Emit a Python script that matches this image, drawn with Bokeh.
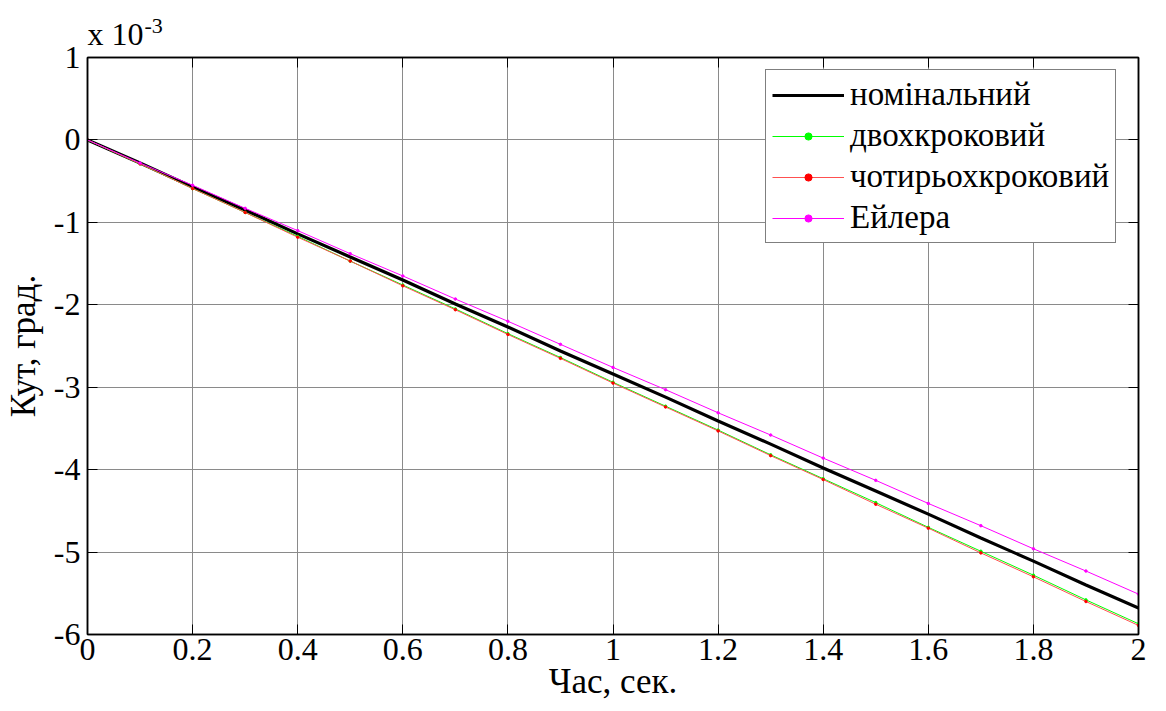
from bokeh.plotting import figure
from bokeh.models import Range1d, LinearAxis, Legend, LegendItem, Label, FixedTicker
from bokeh.embed import file_html
from bokeh.resources import INLINE

# time, s
t = [0.0, 0.1, 0.2, 0.3, 0.4, 0.5, 0.6, 0.7, 0.8, 0.9, 1.0,
     1.1, 1.2, 1.3, 1.4, 1.5, 1.6, 1.7, 1.8, 1.9, 2.0]
# angle, x 1e-3 deg
nominal = [0.0, -0.28, -0.57, -0.85, -1.14, -1.42, -1.70, -1.99, -2.27, -2.56, -2.84,
           -3.12, -3.41, -3.69, -3.98, -4.26, -4.54, -4.83, -5.11, -5.40, -5.68]
two_step = [0.0, -0.29, -0.59, -0.88, -1.17, -1.47, -1.76, -2.05, -2.35, -2.64, -2.94,
            -3.23, -3.52, -3.82, -4.11, -4.40, -4.70, -4.99, -5.28, -5.58, -5.87]
four_step = [0.0, -0.29, -0.59, -0.88, -1.18, -1.47, -1.77, -2.06, -2.36, -2.65, -2.95,
             -3.24, -3.53, -3.83, -4.12, -4.42, -4.71, -5.01, -5.30, -5.60, -5.89]
euler = [0.0, -0.28, -0.55, -0.83, -1.10, -1.38, -1.65, -1.93, -2.20, -2.48, -2.76,
         -3.03, -3.31, -3.58, -3.86, -4.13, -4.41, -4.68, -4.96, -5.23, -5.51]

names = ["номінальний", "двохкроковий", "чотирьохкроковий", "Ейлера"]
x_ticks = [0, 0.2, 0.4, 0.6, 0.8, 1.0, 1.2, 1.4, 1.6, 1.8, 2.0]
x_tick_labels = ["0", "0.2", "0.4", "0.6", "0.8", "1", "1.2", "1.4", "1.6", "1.8", "2"]
y_ticks = [-6, -5, -4, -3, -2, -1, 0, 1]
y_tick_labels = ["-6", "-5", "-4", "-3", "-2", "-1", "0", "1"]
x_label = "Час, сек."
y_label = "Кут, град."

FONT = "Liberation Serif"
TICK_FS = "32px"
LABEL_FS = "35px"

p = figure(width=1150, height=703, x_range=Range1d(0, 2), y_range=Range1d(-6, 1),
           output_backend="svg", toolbar_location=None,
           min_border_left=85, min_border_right=12, min_border_top=57, min_border_bottom=67)
p.background_fill_color = "white"
p.border_fill_color = "white"
p.outline_line_color = "black"
p.outline_line_width = 1.5

for ax in p.xaxis:
    ax.ticker = FixedTicker(ticks=x_ticks)
    ax.major_label_overrides = {v: s for v, s in zip(x_ticks, x_tick_labels)}
for ax in p.yaxis:
    ax.ticker = FixedTicker(ticks=y_ticks)
    ax.major_label_overrides = {v: s for v, s in zip(y_ticks, y_tick_labels)}

p.xaxis.axis_label = x_label
p.yaxis.axis_label = y_label
for ax in p.xaxis + p.yaxis:
    ax.major_label_text_font = FONT
    ax.major_label_text_font_size = TICK_FS
    ax.major_label_text_color = "black"
    ax.axis_label_text_font = FONT
    ax.axis_label_text_font_size = LABEL_FS
    ax.axis_label_text_font_style = "normal"
    ax.axis_label_text_color = "black"
    ax.major_tick_in = 10
    ax.major_tick_out = 0
    ax.minor_tick_line_color = None
    ax.axis_line_width = 1.5
    ax.axis_line_color = "black"
    ax.major_tick_line_color = "black"
p.xaxis.major_label_standoff = 4
p.xaxis.axis_label_standoff = -1
p.yaxis.major_label_standoff = 7
p.yaxis.axis_label_standoff = 8

for side, ticks in [("right", y_ticks), ("above", x_ticks)]:
    ax2 = LinearAxis(ticker=FixedTicker(ticks=ticks),
                     major_label_overrides={v: "" for v in ticks},
                     major_tick_in=10, major_tick_out=0,
                     minor_tick_line_color=None, axis_line_color="black", axis_line_width=1.5,
                     major_label_standoff=0)
    p.add_layout(ax2, side)

p.xgrid.ticker = FixedTicker(ticks=x_ticks)
p.ygrid.ticker = FixedTicker(ticks=y_ticks)
p.grid.grid_line_color = "#8a8a8a"
p.grid.grid_line_width = 1

r_nom = p.line(t, nominal, line_color="black", line_width=3.2)
r_two = p.line(t, two_step, line_color="#00ff00", line_width=1)
r_two_m = p.scatter(t, two_step, marker="circle", size=2.5, color="#00ff00")
r_four = p.line(t, four_step, line_color="#ff5050", line_width=1)
r_four_m = p.scatter(t, four_step, marker="circle", size=2.5, color="#ff0000")
r_eu = p.line(t, euler, line_color="#ff00ff", line_width=1)
r_eu_m = p.scatter(t, euler, marker="circle", size=2.5, color="#ff00ff")

legend = Legend(items=[
    LegendItem(label=names[0], renderers=[r_nom]),
    LegendItem(label=names[1], renderers=[r_two, r_two_m]),
    LegendItem(label=names[2], renderers=[r_four, r_four_m]),
    LegendItem(label=names[3], renderers=[r_eu, r_eu_m]),
], location=(678, 391))
legend.label_text_font = FONT
legend.label_text_font_size = "33px"
legend.label_text_color = "black"
legend.glyph_width = 72
legend.glyph_height = 18
legend.label_height = 34
legend.label_standoff = 6
legend.spacing = 4
legend.padding = 6
legend.margin = 0
legend.border_line_color = "black"
legend.border_line_width = 1
legend.background_fill_color = "white"
legend.background_fill_alpha = 1
p.add_layout(legend, "center")

# exponent note above the top-left corner of the axes (panel-relative screen units)
p.add_layout(Label(x=0, y=24, x_units="screen", y_units="screen", text="x 10",
                   text_font=FONT, text_font_size=TICK_FS, text_color="black",
                   text_baseline="alphabetic"), "above")
p.add_layout(Label(x=57, y=-4, x_units="screen", y_units="screen", text="-3",
                   text_font=FONT, text_font_size="22px", text_color="black",
                   text_baseline="alphabetic"), "above")

open("out.html", "w").write(file_html(p, INLINE))
